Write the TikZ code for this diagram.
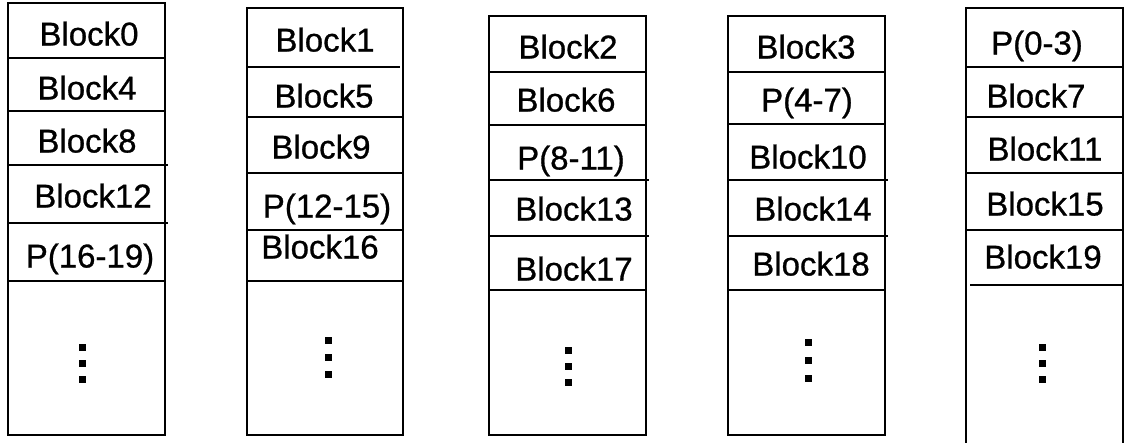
\documentclass[tikz,border=0pt]{standalone}
\usepackage{fontspec}
\setmainfont{Liberation Sans}
\newfontfamily\blkfont{Liberation Sans}[FakeBold=0.8]

\begin{document}
\begin{tikzpicture}[x=1pt, y=-1pt, line width=1.4pt,
  blk/.style={inner sep=0pt, text height=23pt, text depth=0pt,
              font=\blkfont\fontsize{33}{38}\selectfont}]

\useasboundingbox (0,0) rectangle (1124,442);

% --- Disk 0 ---
\draw (8,3) rectangle (165,435);
\draw (8,58) -- (165,58);
\draw (8,111) -- (165,111);
\draw (8,165) -- (168,165);
\draw (8,223) -- (168,223);
\draw (8,281) -- (165,281);
\node[blk] (b0)  at (89,34)  {Block0};
\node[blk] (b4)  at (87,88)  {Block4};
\node[blk] (b8)  at (87,141) {Block8};
\node[blk] (b12) at (93,196) {Block12};
\node[blk] (p16) at (90,256) {P(16-19)};
\foreach \dy in {0,16,32} \fill (78.5,343.5+\dy) rectangle +(7,7);

% --- Disk 1 ---
\draw (247,8) rectangle (403,435);
\draw (247,67) -- (400,67);
\draw (247,117) -- (403,117);
\draw (247,173) -- (403,173);
\draw (247,230) -- (403,230);
\draw (247,281) -- (403,281);
\node[blk] (b1)  at (325,40)  {Block1};
\node[blk] (b5)  at (324,96)  {Block5};
\node[blk] (b9)  at (321,147) {Block9};
\node[blk] (p12) at (327,206) {P(12-15)};
\node[blk] (b16) at (320,247) {Block16};
\foreach \dy in {0,17,34} \fill (324.5,336.5+\dy) rectangle +(7,7);

% --- Disk 2 ---
\draw (489,16) rectangle (646,435);
\draw (489,72) -- (646,72);
\draw (489,125) -- (646,125);
\draw (489,180) -- (649,180);
\draw (489,236) -- (649,236);
\draw (489,290) -- (646,290);
\node[blk] (b2)  at (568,47)  {Block2};
\node[blk] (b6)  at (566,100) {Block6};
\node[blk] (p8)  at (571,158) {P(8-11)};
\node[blk] (b13) at (574,209) {Block13};
\node[blk] (b17) at (574,269) {Block17};
\foreach \dy in {0,16,32} \fill (564.5,346.5+\dy) rectangle +(7,7);

% --- Disk 3 ---
\draw (728,16) rectangle (885,435);
\draw (728,72) -- (885,72);
\draw (728,124) -- (885,124);
\draw (728,180) -- (888,180);
\draw (728,236) -- (888,236);
\draw (728,290) -- (885,290);
\node[blk] (b3)  at (806,47)  {Block3};
\node[blk] (p4)  at (807,100) {P(4-7)};
\node[blk] (b10) at (808,157) {Block10};
\node[blk] (b14) at (813,209) {Block14};
\node[blk] (b18) at (811,264) {Block18};
\foreach \dy in {0,18,36} \fill (804.5,338.5+\dy) rectangle +(7,7);

% --- Disk 4 ---
\draw (966,8) rectangle (1123,446);
\draw (966,67) -- (1123,67);
\draw (966,117) -- (1123,117);
\draw (966,173) -- (1123,173);
\draw (966,230) -- (1123,230);
\draw (970,285) -- (1123,285);
\node[blk] (p0)  at (1037,43)  {P(0-3)};
\node[blk] (b7)  at (1036,96)  {Block7};
\node[blk] (b11) at (1045,149) {Block11};
\node[blk] (b15) at (1045,204) {Block15};
\node[blk] (b19) at (1043,257) {Block19};
\foreach \dy in {0,16,32} \fill (1038.5,343.5+\dy) rectangle +(7,7);

\end{tikzpicture}
\end{document}
